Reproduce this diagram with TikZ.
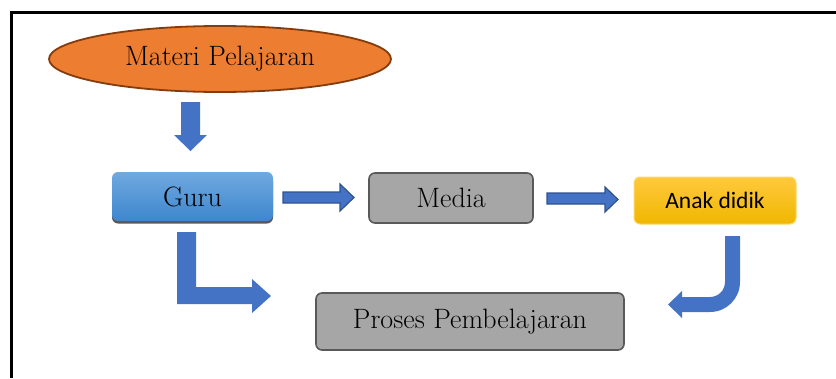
\documentclass[tikz,border=0pt]{standalone}
\usepackage{fontspec}
\usepackage{tikz}
\usetikzlibrary{shapes.geometric,shadows,positioning}
\newfontfamily\calibrifont{Carlito}
\definecolor{orangefill}{HTML}{ED7D31}
\definecolor{orangeline}{HTML}{843C0C}
\definecolor{blueTop}{HTML}{6FA9E0}
\definecolor{blueBot}{HTML}{3E86CD}
\definecolor{grayfill}{HTML}{A6A6A6}
\definecolor{grayline}{HTML}{595959}
\definecolor{goldTop}{HTML}{FFC93E}
\definecolor{goldBot}{HTML}{F0B700}
\definecolor{goldline}{HTML}{FFD966}
\definecolor{arrowblue}{HTML}{4472C4}
\definecolor{arrowline}{HTML}{2F528F}

\begin{document}
\begin{tikzpicture}[x=1pt,y=-1pt,
  serif/.style={font=\fontsize{28}{32}\selectfont},
  box/.style={rectangle,rounded corners=6pt,inner sep=0pt,serif},
  graybox/.style={box,fill=grayfill,draw=grayline,line width=1.6pt},
  blockarrow/.style={fill=arrowblue},
  edgearrow/.style={blockarrow,draw=arrowline,line width=1.2pt}]
\useasboundingbox (0,0) rectangle (836,378);
\draw[line width=3pt] (836,12) -- (11,12) -- (11,378);

% nodes
\node[ellipse,fill=orangefill,draw=orangeline,line width=1.8pt,
      minimum width=342pt,minimum height=66pt,inner sep=0pt,serif] (materi) at (220,59) {Materi Pelajaran};
\node[box,top color=blueTop,bottom color=blueBot,
      drop shadow={shadow xshift=0pt,shadow yshift=-2.5pt,fill=grayline,opacity=1},
      minimum width=161pt,minimum height=49pt] (guru) at (192.5,196.5) {Guru};
\node[graybox,minimum width=164pt,minimum height=50pt] (media) at (451,198) {Media};
\node[box,top color=goldTop,bottom color=goldBot,draw=goldline,line width=1pt,
      minimum width=162pt,minimum height=47pt,font=\calibrifont\fontsize{23.5}{28}\selectfont] (anak) at (715,200.5) {Anak didik};
\node[graybox,minimum width=308pt,minimum height=57pt] (proses) at (470,321.5) {Proses Pembelajaran};

% arrows
\fill[blockarrow] (181,102) -- (200,102) -- (200,135) -- (207,135) -- (190.5,151) -- (174,135) -- (181,135) -- cycle;
\filldraw[edgearrow] (283,192) -- (340,192) -- (340,184) -- (354,197.5) -- (340,211) -- (340,203) -- (283,203) -- cycle;
\filldraw[edgearrow] (547,193) -- (605,193) -- (605,187) -- (618,199.5) -- (605,212) -- (605,204) -- (547,204) -- cycle;
\fill[blockarrow] (177,232) -- (196,232) -- (196,287) -- (252,287) -- (252,279) -- (271,296)
  -- (252,313) -- (252,304) -- (177,304) -- cycle;
\fill[blockarrow] (725,236) -- (740,236) -- (740,282) arc[start angle=0,end angle=-90,radius=30pt]
  -- (682,312) -- (682,318) -- (668,304.5) -- (682,291) -- (682,297) -- (710,297)
  arc[start angle=-90,end angle=0,radius=15pt] -- cycle;
\end{tikzpicture}
\end{document}
